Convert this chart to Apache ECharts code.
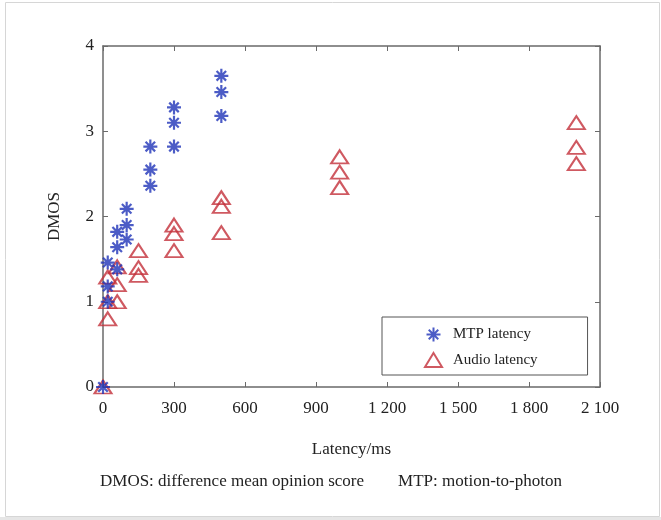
<!DOCTYPE html>
<html>
<head>
<meta charset="utf-8">
<script src="https://cdn.jsdelivr.net/npm/echarts@6/dist/echarts.min.js"></script>
<style>
  html, body { margin: 0; padding: 0; background: #fff; }
  #chart { width: 661px; height: 520px; }
</style>
</head>
<body>
<div id="chart"></div>
<script>
// latency (ms) and DMOS values
var mtpLatency = [0, 20, 20, 20, 60, 60, 60, 100, 100, 100, 200, 200, 200, 300, 300, 300, 500, 500, 500];
var mtpDmos = [0, 1.46, 1.18, 1.0, 1.82, 1.64, 1.38, 2.09, 1.9, 1.73, 2.82, 2.55, 2.36, 3.28, 3.1, 2.82, 3.65, 3.46, 3.18];

var audioLatency = [0, 20, 20, 20, 60, 60, 60, 150, 150, 150, 300, 300, 300, 500, 500, 500, 1000, 1000, 1000, 2000, 2000, 2000];
var audioDmos = [0, 0.8, 1.0, 1.29, 1.0, 1.2, 1.41, 1.6, 1.4, 1.31, 1.9, 1.8, 1.6, 2.22, 2.12, 1.81, 2.7, 2.52, 2.34, 3.1, 2.81, 2.62];

var xTicks = [0, 300, 600, 900, 1200, 1500, 1800, 2100];
var seriesNames = ['MTP latency', 'Audio latency'];
var caption = 'DMOS: difference mean opinion score        MTP: motion-to-photon';

var serif = 'Liberation Serif';
var blue = '#1f33b8';
var red = '#c3303a';
var axisGray = '#6a6a6a';

var pairs = function(xs, ys) {
    return xs.map(function(x, i) { return [x, ys[i]]; });
};

var fmtThousands = function(v) {
    return v >= 1000 ? Math.floor(v / 1000) + ' ' + String(v % 1000).padStart(3, '0') : String(v);
};

var asterisk = 'path://M0,5L10,5M5,0L5,10M1.6,1.6L8.4,8.4M8.4,1.6L1.6,8.4';

var myChart = echarts.init(document.getElementById('chart'));

var boxAxis = {
    min: 0,
    axisLine: { show: true, onZero: false, lineStyle: { color: axisGray, width: 1.5 } },
    axisTick: { show: true, inside: true, length: 5, lineStyle: { color: axisGray } },
    axisLabel: { show: false },
    splitLine: { show: false }
};

var option = {
    animation: false,
    backgroundColor: '#fff',
    grid: { left: 103, right: 61, top: 46, bottom: 133 },
    xAxis: [
        {
            type: 'value', min: 0, max: 2100, interval: 300,
            name: 'Latency/ms', nameLocation: 'middle', nameGap: 54,
            nameTextStyle: { fontFamily: serif, fontSize: 17, color: '#222' },
            axisLine: { onZero: false, lineStyle: { color: axisGray, width: 1.5 } },
            axisTick: { inside: true, length: 5, lineStyle: { color: axisGray } },
            axisLabel: {
                margin: 13, fontFamily: serif, fontSize: 17, color: '#222',
                formatter: function(v) { return xTicks.indexOf(v) >= 0 ? fmtThousands(v) : ''; }
            },
            splitLine: { show: false }
        },
        Object.assign({ type: 'value', position: 'top', max: 2100, interval: 300 }, boxAxis)
    ],
    yAxis: [
        {
            type: 'value', min: 0, max: 4, interval: 1,
            name: 'DMOS', nameLocation: 'middle', nameGap: 40,
            nameTextStyle: { fontFamily: serif, fontSize: 17, color: '#222' },
            axisLine: { show: true, onZero: false, lineStyle: { color: axisGray, width: 1.5 } },
            axisTick: { show: true, inside: true, length: 5, lineStyle: { color: axisGray } },
            axisLabel: { margin: 9, fontFamily: serif, fontSize: 17, color: '#222' },
            splitLine: { show: false }
        },
        Object.assign({ type: 'value', position: 'right', max: 4, interval: 1 }, boxAxis)
    ],
    legend: {
        orient: 'vertical',
        left: 382, top: 317,
        padding: [8, 50, 7, 42],
        itemGap: 8,
        itemWidth: 17, itemHeight: 14,
        borderColor: '#555', borderWidth: 1,
        backgroundColor: '#fff',
        textStyle: { fontFamily: serif, fontSize: 15, color: '#222', padding: [0, 0, 0, 6] },
        data: seriesNames
    },
    graphic: [
        {
            type: 'rect', z: -10, silent: true,
            shape: { x: 5.5, y: 2.5, width: 654, height: 514 },
            style: { fill: 'none', stroke: '#d6d6d6', lineWidth: 1 }
        },
        {
            type: 'rect', z: -10, silent: true,
            shape: { x: 0, y: 517, width: 661, height: 3 },
            style: { fill: '#e6e6e6' }
        },
        {
            type: 'text', left: 100, top: 473,
            style: { text: caption, fontFamily: serif, fontSize: 17, fill: '#222' }
        }
    ],
    series: [
        {
            name: seriesNames[0], type: 'scatter',
            data: pairs(mtpLatency, mtpDmos),
            symbol: asterisk, symbolSize: 14,
            itemStyle: { color: 'none', borderColor: blue, borderWidth: 2.2 },
            z: 3
        },
        {
            name: seriesNames[1], type: 'scatter',
            data: pairs(audioLatency, audioDmos),
            symbol: 'triangle', symbolSize: [17, 13],
            itemStyle: { color: 'rgba(255,255,255,0)', borderColor: red, borderWidth: 2 },
            z: 2
        }
    ]
};

myChart.setOption(option);
</script>
</body>
</html>
